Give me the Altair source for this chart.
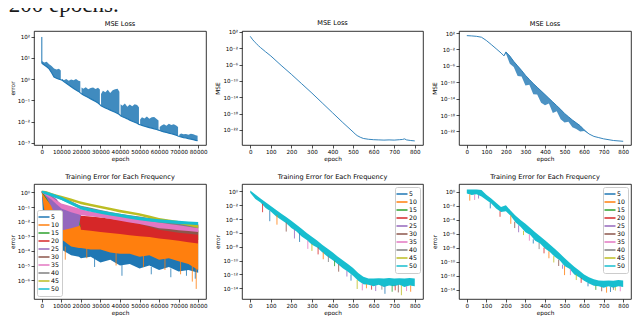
import altair as alt
import pandas as pd

# ---------------------------------------------------------------- data
# all error values are stored as log10(value)
FREQS = ["5", "10", "15", "20", "25", "30", "35", "40", "45", "50"]
TAB10 = ["#1f77b4", "#ff7f0e", "#2ca02c", "#d62728", "#9467bd",
         "#8c564b", "#e377c2", "#7f7f7f", "#bcbd22", "#17becf"]

# panel 1 : MSE loss, 80000 epochs, restart every 10000 epochs
p1_seg_start = [0, 10000, 20000, 30000, 40000, 50000, 60000, 70000]
p1_seg_offset = [300, 1250, 2500, 3750, 5000, 6250, 7500, 8750, 9700]
p1_low = [
    [0.74, 0.66, 0.58, 0.48, 0.30, 0.10, 0.04, 0.00, -0.03],
    [-0.05, -0.12, -0.2, -0.28, -0.36, -0.44, -0.51, -0.58, -0.65],
    [-0.69, -0.75, -0.81, -0.87, -0.93, -0.99, -1.06, -1.13, -1.20],
    [-1.25, -1.30, -1.36, -1.41, -1.46, -1.51, -1.56, -1.62, -1.67],
    [-1.72, -1.77, -1.82, -1.87, -1.93, -1.98, -2.03, -2.08, -2.13],
    [-2.15, -2.18, -2.22, -2.25, -2.28, -2.31, -2.34, -2.37, -2.40],
    [-2.42, -2.45, -2.48, -2.51, -2.54, -2.57, -2.60, -2.64, -2.68],
    [-2.70, -2.72, -2.75, -2.77, -2.80, -2.82, -2.85, -2.88, -2.90],
]
p1_high = [
    [0.85, 0.78, 0.82, 0.70, 0.62, 0.50, 0.45, 0.48, 0.40],
    [0.02, -0.05, 0.00, -0.08, -0.02, -0.06, 0.00, -0.08, -0.10],
    [-0.40, -0.46, -0.38, -0.48, -0.42, -0.40, -0.47, -0.41, -0.49],
    [-0.70, -0.55, -0.62, -0.50, -0.66, -0.52, -0.48, -0.45, -0.60],
    [-1.18, -1.25, -1.15, -1.30, -1.20, -1.28, -1.18, -1.22, -1.33],
    [-1.90, -1.80, -1.85, -1.76, -1.86, -1.80, -1.78, -1.88, -1.95],
    [-2.25, -2.18, -2.12, -2.20, -2.10, -2.16, -2.12, -2.18, -2.25],
    [-2.62, -2.56, -2.60, -2.58, -2.62, -2.57, -2.60, -2.64, -2.66],
]
p1_spike_epoch = [0]
p1_spike_low = [0.74]
p1_spike_high = [1.98]

# panel 2 : MSE loss, 800 epochs
p2_epoch = [0, 10, 20, 30, 40, 50, 75, 100, 150, 200, 250, 300, 350, 400, 450,
            500, 510, 520, 535, 550, 575, 600, 625, 650, 675, 700, 725, 740,
            750, 760, 780, 800]
p2_mse = [0.9, 0.2, -0.4, -0.9, -1.4, -1.85, -2.9, -3.9, -6.2, -8.4, -10.7,
          -13.0, -15.4, -17.8, -20.2, -22.5, -23.0, -23.4, -23.8, -24.1, -24.3,
          -24.4, -24.45, -24.5, -24.45, -24.5, -24.4, -24.35, -24.2, -24.45,
          -24.6, -24.7]

# panel 3 : MSE loss, 800 epochs, noisy band 200-600
p3_epoch = [0, 25, 50, 75, 100, 125, 150, 175, 190,
            200, 220, 240, 260, 280, 300, 320, 340, 360, 380, 400, 420, 440,
            460, 480, 500, 520, 540, 560, 580, 600,
            625, 650, 675, 700, 750, 800]
p3_high = [1.37, 1.30, 1.20, 0.98, 0.18, -0.80, -1.82, -2.85, -3.57,
           -2.6, -3.6, -4.9, -6.0, -7.1, -8.3, -9.3, -10.3, -11.2, -12.1, -13.0,
           -13.9, -14.8, -15.7, -16.6, -17.6, -18.4, -19.2, -19.9, -20.6, -21.6,
           -22.6, -23.2, -23.5, -23.8, -24.2, -24.4]
p3_low = [1.37, 1.30, 1.20, 0.98, 0.18, -0.80, -1.82, -2.85, -3.57,
          -3.0, -5.5, -6.3, -8.5, -8.6, -10.8, -10.6, -12.9, -13.0, -15.0, -15.6,
          -15.2, -17.5, -17.1, -19.0, -19.8, -19.6, -21.0, -21.4, -22.0, -21.9,
          -22.6, -23.2, -23.5, -23.8, -24.2, -24.4]

# panel 4 : error per frequency, 80000 epochs (band low / high per series)
p4_epoch = [0, 1000, 2500, 5000, 7500, 10000, 15000, 19000, 20000, 25000, 30000,
            35000, 40000, 45000, 50000, 55000, 60000, 65000, 70000, 75000, 80000]
p4_high = {
    "5": [0.05, -0.6, -1.3, -1.8, -2.0, -2.2, -2.4, -2.5, -2.5, -2.6, -2.7, -2.8, -2.9, -3.0, -3.0, -3.1, -3.2, -3.3, -3.3, -3.4, -3.5],
    "10": [0.07, -0.1, -0.4, -0.9, -1.2, -1.5, -1.8, -1.9, -1.9, -1.95, -2.0, -2.1, -2.3, -2.35, -2.45, -2.5, -2.6, -2.65, -2.75, -2.8, -2.9],
    "15": [0.07, -0.05, -0.2, -0.5, -0.75, -1.0, -1.3, -1.5, -1.7, -1.75, -1.8, -1.9, -1.95, -2.05, -2.1, -2.2, -2.3, -2.35, -2.45, -2.55, -2.65],
    "20": [0.07, 0.0, -0.15, -0.4, -0.65, -0.9, -1.1, -1.3, -1.6, -1.65, -1.72, -1.8, -1.88, -1.95, -2.0, -2.1, -2.2, -2.28, -2.38, -2.48, -2.58],
    "25": [0.07, 0.05, -0.05, -0.2, -0.45, -0.9, -1.2, -1.4, -1.2, -1.35, -1.45, -1.55, -1.65, -1.75, -1.85, -1.95, -2.05, -2.1, -2.15, -2.2, -2.25],
    "30": [0.07, 0.02, -0.08, -0.3, -0.55, -0.8, -1.0, -1.15, -1.2, -1.35, -1.45, -1.55, -1.65, -1.75, -1.85, -1.95, -2.05, -2.1, -2.15, -2.2, -2.25],
    "35": [0.07, 0.0, -0.1, -0.3, -0.55, -0.75, -0.95, -1.1, -1.15, -1.3, -1.4, -1.5, -1.6, -1.7, -1.8, -1.9, -2.0, -2.05, -2.1, -2.15, -2.2],
    "40": [0.1, 0.08, 0.03, -0.08, -0.2, -0.32, -0.6, -0.85, -0.9, -1.05, -1.2, -1.33, -1.45, -1.55, -1.65, -1.75, -1.85, -1.93, -2.0, -2.08, -2.15],
    "45": [0.12, 0.12, 0.08, -0.04, -0.14, -0.22, -0.42, -0.58, -0.62, -0.77, -0.9, -1.04, -1.19, -1.3, -1.42, -1.58, -1.74, -1.85, -1.96, -2.1, -2.25],
    "50": [0.12, 0.1, 0.05, -0.06, -0.18, -0.3, -0.62, -0.88, -0.94, -1.1, -1.23, -1.35, -1.46, -1.57, -1.68, -1.76, -1.83, -1.89, -1.94, -1.98, -2.02],
}
p4_low = {
    "5": [0.0, -2.5, -3.3, -3.6, -3.8, -3.9, -4.3, -4.4, -4.5, -4.4, -4.8, -4.6, -5.0, -4.9, -5.2, -5.0, -5.3, -5.1, -5.4, -5.3, -5.5],
    "10": [0.0, -1.0, -2.0, -2.3, -2.6, -3.2, -3.7, -3.8, -3.8, -3.9, -3.9, -4.1, -4.2, -4.2, -4.4, -4.3, -4.6, -4.5, -4.7, -4.9, -5.3],
    "15": [0.0, -0.2, -0.5, -0.9, -1.2, -1.5, -2.0, -2.2, -2.4, -2.45, -2.5, -2.6, -2.65, -2.7, -2.8, -2.85, -2.95, -3.0, -3.1, -3.15, -3.25],
    "20": [0.0, -0.1, -0.3, -0.6, -0.9, -1.35, -1.5, -1.6, -2.55, -2.62, -2.7, -2.78, -2.85, -2.92, -3.0, -3.05, -3.15, -3.22, -3.3, -3.4, -3.5],
    "25": [0.0, -0.1, -0.4, -1.0, -1.8, -2.6, -2.45, -2.3, -1.5, -1.57, -1.65, -1.77, -1.88, -2.0, -2.1, -2.25, -2.39, -2.45, -2.53, -2.59, -2.65],
    "30": [0.0, -0.08, -0.22, -0.48, -0.78, -1.05, -1.3, -1.45, -1.5, -1.6, -1.68, -1.8, -1.9, -2.02, -2.15, -2.35, -2.55, -2.65, -2.75, -2.82, -2.9],
    "35": [0.0, -0.1, -0.25, -0.5, -0.8, -1.1, -1.35, -1.5, -1.55, -1.62, -1.7, -1.82, -1.93, -2.05, -2.15, -2.3, -2.44, -2.5, -2.58, -2.64, -2.7],
    "40": [0.0, -0.05, -0.12, -0.25, -0.38, -0.5, -0.8, -1.05, -1.1, -1.25, -1.4, -1.5, -1.6, -1.72, -1.85, -1.95, -2.05, -2.15, -2.25, -2.35, -2.45],
    "45": [0.0, -0.05, -0.1, -0.22, -0.32, -0.4, -0.6, -0.76, -0.8, -0.95, -1.08, -1.22, -1.37, -1.48, -1.6, -1.76, -1.92, -2.03, -2.14, -2.28, -2.43],
    "50": [0.0, -0.08, -0.15, -0.27, -0.4, -0.52, -0.84, -1.1, -1.16, -1.32, -1.45, -1.57, -1.68, -1.79, -1.9, -1.98, -2.05, -2.11, -2.16, -2.2, -2.23],
}
p4_spike_freq = ["10", "10", "10", "10", "10", "10", "10", "10",
                 "5", "5", "5", "5", "5", "5", "5"]
p4_spike_epoch = [12000, 23000, 38000, 52000, 63000, 71000, 77000, 79000,
                  8000, 27000, 41000, 56000, 66000, 74000, 78500]
p4_spike_low = [-4.6, -4.5, -5.0, -5.1, -5.3, -5.6, -6.1, -6.6,
                -4.6, -5.1, -5.7, -5.6, -5.8, -5.7, -5.9]
p4_spike_high = [-3.7, -3.8, -4.1, -4.3, -4.5, -4.7, -4.8, -5.0,
                 -3.8, -4.4, -4.9, -5.1, -5.2, -5.3, -5.4]

# panels 5 and 6 : error per frequency, 800 epochs
p56_epoch = [0, 25, 50, 75, 100, 125, 150, 175, 200, 225, 250, 275, 300, 325,
             350, 375, 400, 425, 450, 475, 500, 525, 550, 575, 600, 625, 650,
             675, 700, 725, 750, 775, 800]
p5_high = [0.15, -0.45, -1.0, -1.55, -2.1, -2.65, -3.2, -3.7, -4.25, -4.8, -5.4,
           -6.0, -6.55, -7.1, -7.7, -8.25, -8.8, -9.4, -9.95, -10.5, -11.05,
           -11.8, -12.35, -12.6, -12.6, -12.55, -12.6, -12.5, -12.6, -12.55,
           -12.6, -12.5, -12.6]
p5_low = [-0.2, -1.1, -1.6, -2.4, -2.9, -3.6, -4.1, -4.6, -5.3, -5.8, -6.5,
          -7.0, -7.7, -8.1, -8.8, -9.4, -9.9, -10.5, -11.1, -11.6, -12.2, -12.9,
          -13.4, -13.5, -13.7, -13.5, -13.8, -13.6, -13.7, -13.5, -13.8, -13.6,
          -13.7]
p5_spike_freq = ["5", "20", "10", "30", "25", "5", "35", "45", "20", "10", "40",
                 "15", "30", "25", "5", "45", "35", "10", "20", "25", "5", "40",
                 "15", "30", "45", "35", "10", "20"]
p5_spike_epoch = [95, 60, 130, 175, 215, 240, 280, 300, 330, 355, 380, 410, 430,
                  470, 490, 520, 545, 565, 590, 610, 655, 640, 690, 720, 735, 760,
                  780, 705]
p5_spike_low = [-4.3, -3.0, -4.8, -5.8, -6.8, -7.3, -8.3, -8.6, -9.1, -9.8, -10.2,
                -10.8, -11.6, -12.3, -12.9, -14.1, -14.3, -14.0, -14.2, -14.4,
                -14.8, -14.2, -14.5, -14.6, -15.0, -14.4, -14.5, -14.3]
p5_spike_high = [-2.8, -1.8, -3.4, -4.5, -5.5, -6.0, -7.1, -7.6, -8.1, -8.8, -9.3,
                 -10.0, -10.5, -11.5, -12.0, -12.8, -13.3, -13.4, -13.6, -13.6,
                 -13.7, -13.6, -13.6, -13.5, -13.6, -13.7, -13.6, -13.6]

p6_high = [0.3, 0.3, 0.28, 0.2, -0.45, -1.0, -1.6, -2.2, -1.95, -2.75, -3.45,
           -4.05, -4.6, -5.2, -5.8, -6.35, -6.95, -7.55, -8.15, -8.8, -9.45,
           -10.1, -10.7, -11.25, -11.8, -12.2, -12.5, -12.65, -12.7, -12.65,
           -12.7, -12.6, -12.65]
p6_low = [-0.3, -0.5, -0.4, -0.7, -1.2, -1.7, -2.4, -2.9, -2.8, -3.5, -4.4,
          -5.0, -5.8, -6.2, -7.0, -7.4, -8.1, -8.6, -9.3, -9.8, -10.6, -11.0,
          -11.8, -12.2, -12.7, -13.1, -13.4, -13.5, -13.7, -13.5, -13.7, -13.5,
          -13.6]
p6_spike_freq = ["10", "35", "25", "5", "20", "10", "30", "25", "45", "35", "5",
                 "40", "20", "10", "45", "30", "25", "10", "35", "45", "20", "5",
                 "15", "30", "10", "5", "45", "35", "40"]
p6_spike_epoch = [15, 40, 60, 120, 170, 225, 245, 265, 290, 320, 340, 370, 395,
                  420, 445, 470, 490, 500, 530, 560, 585, 620, 660, 690, 715, 735,
                  760, 785, 750]
p6_spike_low = [-1.3, -1.2, -1.0, -2.4, -3.6, -4.6, -5.2, -5.8, -6.2, -7.0, -7.4,
                -8.2, -8.8, -9.5, -10.1, -10.6, -11.0, -11.9, -11.9, -12.6, -13.0,
                -13.5, -14.0, -14.2, -14.4, -14.3, -14.1, -14.2, -14.0]
p6_spike_high = [-0.4, -0.4, -0.5, -1.6, -2.8, -3.4, -4.3, -4.8, -5.6, -6.1, -6.8,
                 -7.3, -8.0, -8.5, -9.2, -9.7, -10.4, -10.6, -11.0, -11.8, -12.3,
                 -13.0, -13.4, -13.6, -13.6, -13.6, -13.6, -13.5, -13.6]

# ---------------------------------------------------------------- helpers
SUP = str.maketrans("0123456789-", "⁰¹²³⁴⁵⁶⁷⁸⁹⁻")
FONT = "DejaVu Sans"


def pow10(v):
    return 10.0 ** v


def pow_label_expr(exps):
    expr = "''"
    for e in sorted(exps):
        expr = f"datum.value > {pow10(e) / 3:.4e} ? '10{str(e).translate(SUP)}' : ({expr})"
    return expr


def y_axis(exps, title):
    return alt.Axis(values=[pow10(e) for e in exps], labelExpr=pow_label_expr(exps),
                    title=title, labelOverlap=False)


def x_axis(values):
    return alt.Axis(values=values, format="d", title="epoch", labelOverlap=False,
                    labelFlush=False, labelPadding=1, titlePadding=1)


def ptitle(text):
    return alt.TitleParams(text, fontSize=6.6, font=FONT, fontWeight="normal",
                           offset=3, color="black")


BLUE = "#1f77b4"
W1, W2, W3 = 172, 181, 172
H_TOP, H_BOT = 114, 115
X_LONG = alt.Scale(domain=[-4000, 84000], nice=False, zero=False)
X_SHORT = alt.Scale(domain=[-40, 840], nice=False, zero=False)
LONG_TICKS = [0, 10000, 20000, 30000, 40000, 50000, 60000, 70000, 80000]
SHORT_TICKS = [0, 100, 200, 300, 400, 500, 600, 700, 800]
CSCALE = alt.Scale(domain=FREQS, range=TAB10)

# ---------------------------------------------------------------- panel 1
rows = []
for k, s in enumerate(p1_seg_start):
    for j, o in enumerate(p1_seg_offset):
        ep = 0 if (k == 0 and j == 0) else s + o
        rows.append({"epoch": ep, "seg": k, "lo": pow10(p1_low[k][j]),
                     "hi": pow10(p1_high[k][j])})
df1 = pd.DataFrame(rows)
df1s = pd.DataFrame({"epoch": p1_spike_epoch,
                     "lo": [pow10(v) for v in p1_spike_low],
                     "hi": [pow10(v) for v in p1_spike_high]})
y1 = alt.Scale(type="log", domain=[pow10(-3.1), pow10(2.26)], nice=False)
p1_exps = [2, 1, 0, -1, -2, -3]
x1 = alt.X("epoch:Q", scale=X_LONG, axis=x_axis(LONG_TICKS))
p1_band = alt.Chart(df1).mark_area(clip=True, color=BLUE, opacity=0.85).encode(
    x=x1, y=alt.Y("lo:Q", scale=y1, axis=y_axis(p1_exps, "error"), stack=None),
    y2="hi:Q", detail="seg:N")
p1_line = alt.Chart(df1).mark_line(clip=True, color=BLUE, strokeWidth=1.2).encode(
    x=x1, y=alt.Y("lo:Q", scale=y1))
p1_sp = alt.Chart(df1s).mark_rule(clip=True, color=BLUE, strokeWidth=1).encode(
    x=x1, y=alt.Y("lo:Q", scale=y1), y2="hi:Q")
panel1 = alt.layer(p1_band, p1_line, p1_sp).properties(
    width=W1, height=H_TOP, title=ptitle("MSE Loss"))

# ---------------------------------------------------------------- panel 2
df2 = pd.DataFrame({"epoch": p2_epoch, "mse": [pow10(v) for v in p2_mse]})
mse_exps = [2, -2, -6, -10, -14, -18, -22]
y2s = alt.Scale(type="log", domain=[pow10(-25.7), pow10(2.2)], nice=False)
panel2 = alt.Chart(df2).mark_line(clip=True, color=BLUE, strokeWidth=0.9).encode(
    x=alt.X("epoch:Q", scale=X_SHORT, axis=x_axis(SHORT_TICKS)),
    y=alt.Y("mse:Q", scale=y2s, axis=y_axis(mse_exps, "MSE")),
).properties(width=W2, height=H_TOP, title=ptitle("MSE Loss"))

# ---------------------------------------------------------------- panel 3
df3 = pd.DataFrame({"epoch": p3_epoch, "hi": [pow10(v) for v in p3_high],
                    "lo": [pow10(v) for v in p3_low]})
y3s = alt.Scale(type="log", domain=[pow10(-25.3), pow10(2.5)], nice=False)
x3 = alt.X("epoch:Q", scale=X_SHORT, axis=x_axis(SHORT_TICKS))
p3_band = alt.Chart(df3).mark_area(clip=True, color=BLUE, opacity=0.8).encode(
    x=x3, y=alt.Y("lo:Q", scale=y3s, axis=y_axis(mse_exps, "MSE"), stack=None),
    y2="hi:Q")
p3_line = alt.Chart(df3).mark_line(clip=True, color=BLUE, strokeWidth=0.9).encode(
    x=x3, y=alt.Y("hi:Q", scale=y3s))
panel3 = alt.layer(p3_band, p3_line).properties(
    width=W3, height=H_TOP, title=ptitle("MSE Loss"))


# ---------------------------------------------------------------- bottom panels
def legend(orient):
    return alt.Legend(title=None, orient=orient, offset=3,
                      symbolType="M-1.7,0H1.7", symbolSize=42,
                      symbolStrokeWidth=1.5, symbolOpacity=1,
                      labelFontSize=6.2, labelFont=FONT, labelColor="black",
                      labelOffset=3, padding=3, rowPadding=0,
                      strokeColor="#cccccc", fillColor="white", cornerRadius=2)


def freq_panel(band_df, spike_df, xscale, xticks, yscale, exps, orient, width):
    x = alt.X("epoch:Q", scale=xscale, axis=x_axis(xticks))
    layers = []
    for f, c in zip(FREQS, TAB10):
        sub = band_df[band_df["freq"] == f]
        if len(sub) == 0:
            continue
        layers.append(alt.Chart(sub).mark_area(clip=True, color=c, opacity=1).encode(
            x=x,
            y=alt.Y("lo:Q", scale=yscale, axis=y_axis(exps, "error"), stack=None),
            y2="hi:Q",
        ))
    spikes = alt.Chart(spike_df).mark_rule(clip=True, strokeWidth=0.8).encode(
        x=x, y=alt.Y("lo:Q", scale=yscale), y2="hi:Q",
        color=alt.Color("freq:N", scale=CSCALE, legend=legend(orient), sort=FREQS),
    )
    layers.append(spikes)
    return alt.layer(*layers).properties(
        width=width, height=H_BOT, title=ptitle("Training Error for Each Frequency"))


rows = []
for f in FREQS:
    for ep, lo, hi in zip(p4_epoch, p4_low[f], p4_high[f]):
        rows.append({"freq": f, "epoch": ep, "lo": pow10(lo), "hi": pow10(hi)})
df4 = pd.DataFrame(rows)
df4s = pd.DataFrame({"freq": p4_spike_freq, "epoch": p4_spike_epoch,
                     "lo": [pow10(v) for v in p4_spike_low],
                     "hi": [pow10(v) for v in p4_spike_high]})
y4s = alt.Scale(type="log", domain=[pow10(-7.29), pow10(0.58)], nice=False)
panel4 = freq_panel(df4, df4s, X_LONG, LONG_TICKS, y4s,
                    [0, -1, -2, -3, -4, -5, -6], "bottom-left", W1)

f_exps = [0, -2, -4, -6, -8, -10, -12, -14]
df5 = pd.DataFrame({"freq": "50", "epoch": p56_epoch,
                    "lo": [pow10(v) for v in p5_low], "hi": [pow10(v) for v in p5_high]})
df5s = pd.DataFrame({"freq": p5_spike_freq, "epoch": p5_spike_epoch,
                     "lo": [pow10(v) for v in p5_spike_low],
                     "hi": [pow10(v) for v in p5_spike_high]})
y5s = alt.Scale(type="log", domain=[pow10(-15.55), pow10(1.08)], nice=False)
panel5 = freq_panel(df5, df5s, X_SHORT, SHORT_TICKS, y5s, f_exps, "top-right", W2)

df6 = pd.DataFrame({"freq": "50", "epoch": p56_epoch,
                    "lo": [pow10(v) for v in p6_low], "hi": [pow10(v) for v in p6_high]})
df6s = pd.DataFrame({"freq": p6_spike_freq, "epoch": p6_spike_epoch,
                     "lo": [pow10(v) for v in p6_spike_low],
                     "hi": [pow10(v) for v in p6_spike_high]})
y6s = alt.Scale(type="log", domain=[pow10(-15.3), pow10(1.07)], nice=False)
panel6 = freq_panel(df6, df6s, X_SHORT, SHORT_TICKS, y6s, f_exps, "top-right", W3)

# ---------------------------------------------------------------- layout
chart = alt.concat(
    panel1, panel2, panel3, panel4, panel5, panel6,
    columns=3, spacing={"row": 39, "column": 36}, bounds="flush",
    title=alt.TitleParams("200 epochs.", anchor="start", font="Liberation Serif",
                          fontSize=23, fontWeight="normal", color="#1a1a1a", offset=3),
).resolve_scale(
    color="independent"
).properties(
    padding={"left": 0, "top": -15, "right": 0, "bottom": 0}
).configure_view(
    stroke="black", strokeWidth=0.8
).configure_axis(
    domain=False, grid=False, ticks=True, tickColor="black", tickSize=3,
    tickWidth=0.7, labelFont=FONT, labelFontSize=5.6, labelColor="black",
    labelPadding=1.5, titleFont=FONT, titleFontSize=5.8, titleFontWeight="normal",
    titleColor="black", titlePadding=2,
).configure_title(font=FONT, fontSize=6.6, fontWeight="normal", color="black")

chart.save("out.html", embed_options={"renderer": "svg", "actions": False})
